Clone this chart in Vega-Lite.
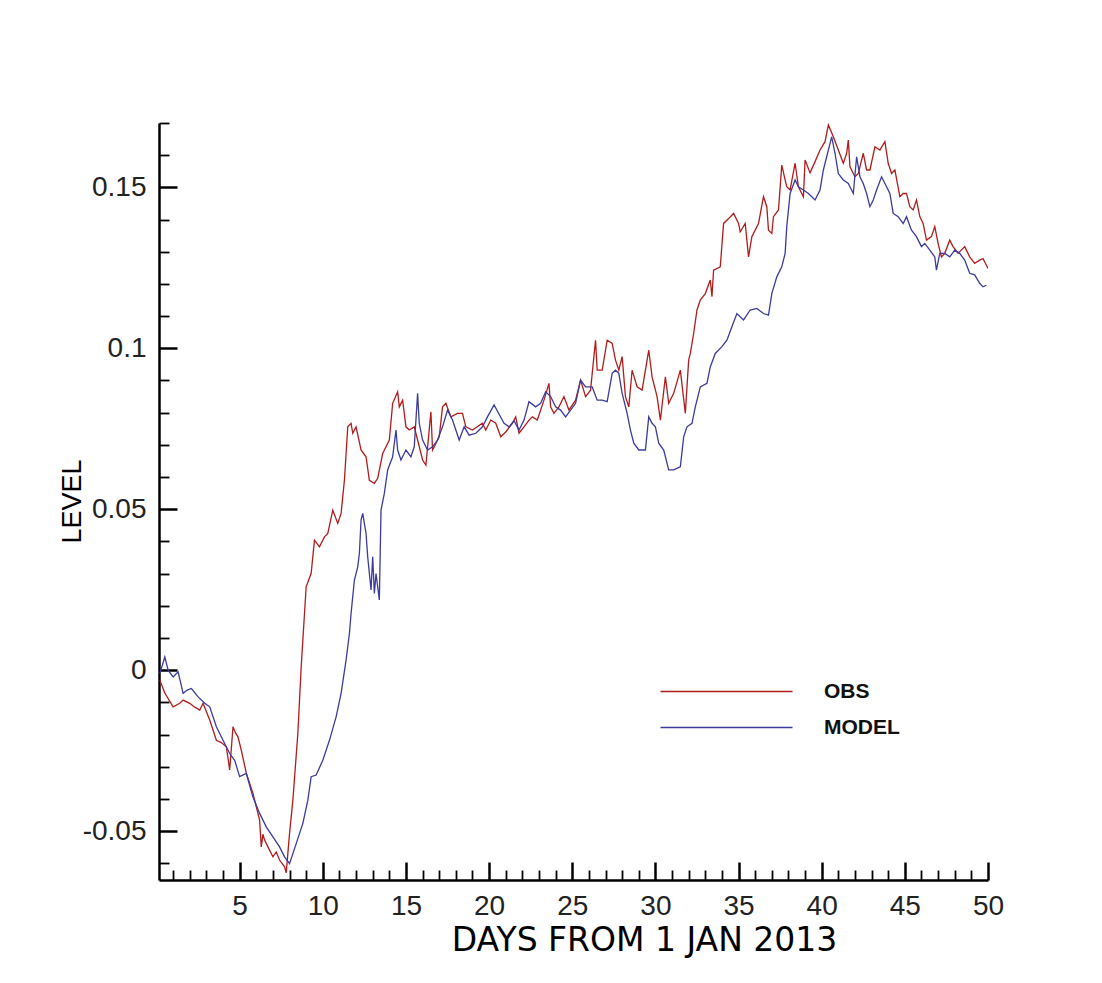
{
  "$schema": "https://vega.github.io/schema/vega-lite/v6.json",
  "autosize": {"type": "none"},
  "width": 829,
  "height": 757,
  "padding": {"left": 159, "top": 123, "right": 114, "bottom": 103},
  "background": "white",
  "config": {"view": {"stroke": null}},
  "data": {"values": [
{"day":0.2,"level":-0.0031,"series":"OBS"},{"day":0.5,"level":-0.0071,"series":"OBS"},{"day":1.0,"level":-0.0114,"series":"OBS"},{"day":1.4,"level":-0.0103,"series":"OBS"},{"day":1.6,"level":-0.0093,"series":"OBS"},{"day":2.0,"level":-0.0103,"series":"OBS"},{"day":2.3,"level":-0.0115,"series":"OBS"},{"day":2.6,"level":-0.0124,"series":"OBS"},{"day":2.8,"level":-0.0103,"series":"OBS"},{"day":3.2,"level":-0.0155,"series":"OBS"},{"day":3.6,"level":-0.0218,"series":"OBS"},{"day":3.9,"level":-0.0225,"series":"OBS"},{"day":4.2,"level":-0.0238,"series":"OBS"},{"day":4.4,"level":-0.031,"series":"OBS"},{"day":4.6,"level":-0.0176,"series":"OBS"},{"day":4.75,"level":-0.0195,"series":"OBS"},{"day":4.9,"level":-0.0207,"series":"OBS"},{"day":5.1,"level":-0.0249,"series":"OBS"},{"day":5.4,"level":-0.032,"series":"OBS"},{"day":5.8,"level":-0.0383,"series":"OBS"},{"day":6.2,"level":-0.0466,"series":"OBS"},{"day":6.3,"level":-0.0549,"series":"OBS"},{"day":6.4,"level":-0.051,"series":"OBS"},{"day":6.5,"level":-0.0528,"series":"OBS"},{"day":6.7,"level":-0.0549,"series":"OBS"},{"day":7.0,"level":-0.058,"series":"OBS"},{"day":7.2,"level":-0.0565,"series":"OBS"},{"day":7.4,"level":-0.059,"series":"OBS"},{"day":7.7,"level":-0.0611,"series":"OBS"},{"day":7.8,"level":-0.063,"series":"OBS"},{"day":8.0,"level":-0.0507,"series":"OBS"},{"day":8.2,"level":-0.0404,"series":"OBS"},{"day":8.5,"level":-0.0196,"series":"OBS"},{"day":8.7,"level":0.001,"series":"OBS"},{"day":8.9,"level":0.0177,"series":"OBS"},{"day":9.0,"level":0.0259,"series":"OBS"},{"day":9.3,"level":0.0301,"series":"OBS"},{"day":9.5,"level":0.0404,"series":"OBS"},{"day":9.8,"level":0.0383,"series":"OBS"},{"day":10.1,"level":0.0414,"series":"OBS"},{"day":10.3,"level":0.0425,"series":"OBS"},{"day":10.6,"level":0.0497,"series":"OBS"},{"day":10.9,"level":0.0456,"series":"OBS"},{"day":11.1,"level":0.0487,"series":"OBS"},{"day":11.3,"level":0.059,"series":"OBS"},{"day":11.5,"level":0.0756,"series":"OBS"},{"day":11.7,"level":0.0767,"series":"OBS"},{"day":11.8,"level":0.0736,"series":"OBS"},{"day":12.0,"level":0.0756,"series":"OBS"},{"day":12.3,"level":0.0684,"series":"OBS"},{"day":12.6,"level":0.0663,"series":"OBS"},{"day":12.8,"level":0.059,"series":"OBS"},{"day":13.1,"level":0.058,"series":"OBS"},{"day":13.3,"level":0.0596,"series":"OBS"},{"day":13.6,"level":0.0673,"series":"OBS"},{"day":14.0,"level":0.0715,"series":"OBS"},{"day":14.2,"level":0.0829,"series":"OBS"},{"day":14.5,"level":0.0865,"series":"OBS"},{"day":14.6,"level":0.0818,"series":"OBS"},{"day":14.8,"level":0.0839,"series":"OBS"},{"day":15.0,"level":0.0756,"series":"OBS"},{"day":15.2,"level":0.0746,"series":"OBS"},{"day":15.5,"level":0.0756,"series":"OBS"},{"day":15.7,"level":0.0715,"series":"OBS"},{"day":16.0,"level":0.0653,"series":"OBS"},{"day":16.2,"level":0.0637,"series":"OBS"},{"day":16.5,"level":0.0803,"series":"OBS"},{"day":16.6,"level":0.0684,"series":"OBS"},{"day":17.0,"level":0.0725,"series":"OBS"},{"day":17.2,"level":0.0818,"series":"OBS"},{"day":17.4,"level":0.0829,"series":"OBS"},{"day":17.7,"level":0.0787,"series":"OBS"},{"day":18.1,"level":0.0798,"series":"OBS"},{"day":18.4,"level":0.0798,"series":"OBS"},{"day":18.6,"level":0.0756,"series":"OBS"},{"day":19.0,"level":0.0746,"series":"OBS"},{"day":19.6,"level":0.0767,"series":"OBS"},{"day":19.8,"level":0.0746,"series":"OBS"},{"day":20.1,"level":0.0777,"series":"OBS"},{"day":20.4,"level":0.0767,"series":"OBS"},{"day":20.7,"level":0.0725,"series":"OBS"},{"day":21.0,"level":0.074,"series":"OBS"},{"day":21.4,"level":0.0767,"series":"OBS"},{"day":21.6,"level":0.0787,"series":"OBS"},{"day":21.8,"level":0.0736,"series":"OBS"},{"day":22.1,"level":0.0756,"series":"OBS"},{"day":22.4,"level":0.0777,"series":"OBS"},{"day":22.6,"level":0.0787,"series":"OBS"},{"day":22.9,"level":0.0777,"series":"OBS"},{"day":23.3,"level":0.0839,"series":"OBS"},{"day":23.6,"level":0.0891,"series":"OBS"},{"day":23.7,"level":0.0818,"series":"OBS"},{"day":23.9,"level":0.0798,"series":"OBS"},{"day":24.2,"level":0.0818,"series":"OBS"},{"day":24.5,"level":0.085,"series":"OBS"},{"day":24.8,"level":0.0808,"series":"OBS"},{"day":25.2,"level":0.0839,"series":"OBS"},{"day":25.5,"level":0.0901,"series":"OBS"},{"day":25.8,"level":0.085,"series":"OBS"},{"day":26.1,"level":0.087,"series":"OBS"},{"day":26.4,"level":0.1025,"series":"OBS"},{"day":26.5,"level":0.0932,"series":"OBS"},{"day":26.8,"level":0.0932,"series":"OBS"},{"day":27.1,"level":0.1025,"series":"OBS"},{"day":27.4,"level":0.1015,"series":"OBS"},{"day":27.6,"level":0.0963,"series":"OBS"},{"day":27.8,"level":0.0932,"series":"OBS"},{"day":28.0,"level":0.0974,"series":"OBS"},{"day":28.2,"level":0.085,"series":"OBS"},{"day":28.4,"level":0.0818,"series":"OBS"},{"day":28.6,"level":0.0932,"series":"OBS"},{"day":28.9,"level":0.088,"series":"OBS"},{"day":29.2,"level":0.087,"series":"OBS"},{"day":29.6,"level":0.0994,"series":"OBS"},{"day":29.8,"level":0.0911,"series":"OBS"},{"day":30.1,"level":0.085,"series":"OBS"},{"day":30.3,"level":0.0777,"series":"OBS"},{"day":30.6,"level":0.0911,"series":"OBS"},{"day":30.8,"level":0.0829,"series":"OBS"},{"day":31.1,"level":0.086,"series":"OBS"},{"day":31.5,"level":0.0932,"series":"OBS"},{"day":31.8,"level":0.0798,"series":"OBS"},{"day":32.0,"level":0.0963,"series":"OBS"},{"day":32.1,"level":0.0984,"series":"OBS"},{"day":32.3,"level":0.1046,"series":"OBS"},{"day":32.5,"level":0.1119,"series":"OBS"},{"day":32.7,"level":0.115,"series":"OBS"},{"day":33.0,"level":0.117,"series":"OBS"},{"day":33.3,"level":0.1212,"series":"OBS"},{"day":33.4,"level":0.116,"series":"OBS"},{"day":33.5,"level":0.1243,"series":"OBS"},{"day":33.9,"level":0.1253,"series":"OBS"},{"day":34.1,"level":0.1388,"series":"OBS"},{"day":34.4,"level":0.1403,"series":"OBS"},{"day":34.7,"level":0.1419,"series":"OBS"},{"day":35.0,"level":0.1388,"series":"OBS"},{"day":35.1,"level":0.1362,"series":"OBS"},{"day":35.4,"level":0.1388,"series":"OBS"},{"day":35.6,"level":0.1284,"series":"OBS"},{"day":35.8,"level":0.1347,"series":"OBS"},{"day":36.2,"level":0.1388,"series":"OBS"},{"day":36.5,"level":0.1471,"series":"OBS"},{"day":36.7,"level":0.144,"series":"OBS"},{"day":36.8,"level":0.1367,"series":"OBS"},{"day":37.0,"level":0.1357,"series":"OBS"},{"day":37.1,"level":0.1409,"series":"OBS"},{"day":37.4,"level":0.143,"series":"OBS"},{"day":37.6,"level":0.1569,"series":"OBS"},{"day":37.8,"level":0.1523,"series":"OBS"},{"day":37.9,"level":0.1502,"series":"OBS"},{"day":38.1,"level":0.1492,"series":"OBS"},{"day":38.4,"level":0.1575,"series":"OBS"},{"day":38.6,"level":0.1502,"series":"OBS"},{"day":38.9,"level":0.1471,"series":"OBS"},{"day":39.0,"level":0.1585,"series":"OBS"},{"day":39.3,"level":0.1545,"series":"OBS"},{"day":39.6,"level":0.158,"series":"OBS"},{"day":39.9,"level":0.1616,"series":"OBS"},{"day":40.2,"level":0.1642,"series":"OBS"},{"day":40.4,"level":0.1694,"series":"OBS"},{"day":40.7,"level":0.1657,"series":"OBS"},{"day":41.0,"level":0.1616,"series":"OBS"},{"day":41.3,"level":0.1575,"series":"OBS"},{"day":41.5,"level":0.1606,"series":"OBS"},{"day":41.6,"level":0.1647,"series":"OBS"},{"day":41.7,"level":0.1564,"series":"OBS"},{"day":42.0,"level":0.1533,"series":"OBS"},{"day":42.2,"level":0.1543,"series":"OBS"},{"day":42.5,"level":0.1606,"series":"OBS"},{"day":42.7,"level":0.1554,"series":"OBS"},{"day":42.9,"level":0.1554,"series":"OBS"},{"day":43.2,"level":0.1626,"series":"OBS"},{"day":43.5,"level":0.1616,"series":"OBS"},{"day":43.8,"level":0.1642,"series":"OBS"},{"day":44.0,"level":0.1575,"series":"OBS"},{"day":44.2,"level":0.1543,"series":"OBS"},{"day":44.4,"level":0.1554,"series":"OBS"},{"day":44.7,"level":0.1471,"series":"OBS"},{"day":44.9,"level":0.1481,"series":"OBS"},{"day":45.1,"level":0.1481,"series":"OBS"},{"day":45.3,"level":0.144,"series":"OBS"},{"day":45.5,"level":0.143,"series":"OBS"},{"day":45.7,"level":0.1461,"series":"OBS"},{"day":45.9,"level":0.1409,"series":"OBS"},{"day":46.1,"level":0.1388,"series":"OBS"},{"day":46.3,"level":0.1336,"series":"OBS"},{"day":46.6,"level":0.1347,"series":"OBS"},{"day":46.8,"level":0.1378,"series":"OBS"},{"day":47.0,"level":0.1326,"series":"OBS"},{"day":47.2,"level":0.1284,"series":"OBS"},{"day":47.4,"level":0.1295,"series":"OBS"},{"day":47.7,"level":0.1336,"series":"OBS"},{"day":47.9,"level":0.1316,"series":"OBS"},{"day":48.2,"level":0.1295,"series":"OBS"},{"day":48.6,"level":0.1316,"series":"OBS"},{"day":48.9,"level":0.1284,"series":"OBS"},{"day":49.2,"level":0.1264,"series":"OBS"},{"day":49.5,"level":0.1274,"series":"OBS"},{"day":49.7,"level":0.1279,"series":"OBS"},{"day":50.0,"level":0.1248,"series":"OBS"},
{"day":0.2,"level":-0.001,"series":"MODEL"},{"day":0.5,"level":0.0041,"series":"MODEL"},{"day":0.7,"level":0.0,"series":"MODEL"},{"day":1.0,"level":-0.0021,"series":"MODEL"},{"day":1.3,"level":-0.0005,"series":"MODEL"},{"day":1.6,"level":-0.0072,"series":"MODEL"},{"day":1.85,"level":-0.0062,"series":"MODEL"},{"day":2.1,"level":-0.0057,"series":"MODEL"},{"day":2.5,"level":-0.0083,"series":"MODEL"},{"day":2.9,"level":-0.0103,"series":"MODEL"},{"day":3.2,"level":-0.0114,"series":"MODEL"},{"day":3.6,"level":-0.0176,"series":"MODEL"},{"day":4.0,"level":-0.0218,"series":"MODEL"},{"day":4.4,"level":-0.0259,"series":"MODEL"},{"day":4.7,"level":-0.028,"series":"MODEL"},{"day":5.0,"level":-0.0331,"series":"MODEL"},{"day":5.4,"level":-0.0321,"series":"MODEL"},{"day":5.8,"level":-0.0394,"series":"MODEL"},{"day":6.2,"level":-0.0445,"series":"MODEL"},{"day":6.6,"level":-0.0487,"series":"MODEL"},{"day":7.0,"level":-0.0518,"series":"MODEL"},{"day":7.4,"level":-0.0549,"series":"MODEL"},{"day":7.7,"level":-0.058,"series":"MODEL"},{"day":8.0,"level":-0.0601,"series":"MODEL"},{"day":8.4,"level":-0.0539,"series":"MODEL"},{"day":8.8,"level":-0.0476,"series":"MODEL"},{"day":9.1,"level":-0.0404,"series":"MODEL"},{"day":9.3,"level":-0.0331,"series":"MODEL"},{"day":9.6,"level":-0.0326,"series":"MODEL"},{"day":10.0,"level":-0.028,"series":"MODEL"},{"day":10.4,"level":-0.0218,"series":"MODEL"},{"day":10.8,"level":-0.0145,"series":"MODEL"},{"day":11.1,"level":-0.0072,"series":"MODEL"},{"day":11.4,"level":0.0031,"series":"MODEL"},{"day":11.6,"level":0.0114,"series":"MODEL"},{"day":11.7,"level":0.0176,"series":"MODEL"},{"day":11.9,"level":0.028,"series":"MODEL"},{"day":12.1,"level":0.0321,"series":"MODEL"},{"day":12.2,"level":0.0363,"series":"MODEL"},{"day":12.3,"level":0.0466,"series":"MODEL"},{"day":12.4,"level":0.0487,"series":"MODEL"},{"day":12.6,"level":0.0425,"series":"MODEL"},{"day":12.7,"level":0.0352,"series":"MODEL"},{"day":12.9,"level":0.0249,"series":"MODEL"},{"day":13.0,"level":0.0352,"series":"MODEL"},{"day":13.1,"level":0.0238,"series":"MODEL"},{"day":13.2,"level":0.03,"series":"MODEL"},{"day":13.4,"level":0.0218,"series":"MODEL"},{"day":13.5,"level":0.0497,"series":"MODEL"},{"day":13.7,"level":0.0549,"series":"MODEL"},{"day":13.9,"level":0.0622,"series":"MODEL"},{"day":14.2,"level":0.0663,"series":"MODEL"},{"day":14.4,"level":0.0746,"series":"MODEL"},{"day":14.5,"level":0.0684,"series":"MODEL"},{"day":14.7,"level":0.0653,"series":"MODEL"},{"day":15.0,"level":0.0684,"series":"MODEL"},{"day":15.3,"level":0.0663,"series":"MODEL"},{"day":15.5,"level":0.0694,"series":"MODEL"},{"day":15.7,"level":0.086,"series":"MODEL"},{"day":15.8,"level":0.0767,"series":"MODEL"},{"day":16.0,"level":0.0715,"series":"MODEL"},{"day":16.3,"level":0.0684,"series":"MODEL"},{"day":16.6,"level":0.0694,"series":"MODEL"},{"day":16.9,"level":0.0715,"series":"MODEL"},{"day":17.2,"level":0.0756,"series":"MODEL"},{"day":17.5,"level":0.0808,"series":"MODEL"},{"day":17.8,"level":0.0777,"series":"MODEL"},{"day":18.0,"level":0.0746,"series":"MODEL"},{"day":18.2,"level":0.0715,"series":"MODEL"},{"day":18.5,"level":0.0756,"series":"MODEL"},{"day":18.8,"level":0.073,"series":"MODEL"},{"day":19.2,"level":0.0736,"series":"MODEL"},{"day":19.6,"level":0.0756,"series":"MODEL"},{"day":19.9,"level":0.0787,"series":"MODEL"},{"day":20.3,"level":0.0824,"series":"MODEL"},{"day":20.6,"level":0.0795,"series":"MODEL"},{"day":20.9,"level":0.0767,"series":"MODEL"},{"day":21.2,"level":0.0756,"series":"MODEL"},{"day":21.5,"level":0.0775,"series":"MODEL"},{"day":21.8,"level":0.0746,"series":"MODEL"},{"day":22.1,"level":0.0777,"series":"MODEL"},{"day":22.4,"level":0.0834,"series":"MODEL"},{"day":22.8,"level":0.0818,"series":"MODEL"},{"day":23.1,"level":0.0829,"series":"MODEL"},{"day":23.4,"level":0.0865,"series":"MODEL"},{"day":23.7,"level":0.085,"series":"MODEL"},{"day":24.0,"level":0.0818,"series":"MODEL"},{"day":24.3,"level":0.0808,"series":"MODEL"},{"day":24.6,"level":0.0787,"series":"MODEL"},{"day":24.9,"level":0.0808,"series":"MODEL"},{"day":25.2,"level":0.0829,"series":"MODEL"},{"day":25.5,"level":0.0901,"series":"MODEL"},{"day":25.8,"level":0.088,"series":"MODEL"},{"day":26.2,"level":0.088,"series":"MODEL"},{"day":26.5,"level":0.0839,"series":"MODEL"},{"day":26.8,"level":0.0839,"series":"MODEL"},{"day":27.1,"level":0.0834,"series":"MODEL"},{"day":27.4,"level":0.0922,"series":"MODEL"},{"day":27.6,"level":0.0932,"series":"MODEL"},{"day":27.8,"level":0.0922,"series":"MODEL"},{"day":28.0,"level":0.086,"series":"MODEL"},{"day":28.3,"level":0.0798,"series":"MODEL"},{"day":28.5,"level":0.0746,"series":"MODEL"},{"day":28.7,"level":0.0705,"series":"MODEL"},{"day":29.0,"level":0.0684,"series":"MODEL"},{"day":29.4,"level":0.0684,"series":"MODEL"},{"day":29.6,"level":0.0787,"series":"MODEL"},{"day":29.8,"level":0.0767,"series":"MODEL"},{"day":30.0,"level":0.0756,"series":"MODEL"},{"day":30.2,"level":0.0705,"series":"MODEL"},{"day":30.5,"level":0.0684,"series":"MODEL"},{"day":30.8,"level":0.0622,"series":"MODEL"},{"day":31.1,"level":0.0622,"series":"MODEL"},{"day":31.5,"level":0.0632,"series":"MODEL"},{"day":31.7,"level":0.0725,"series":"MODEL"},{"day":31.9,"level":0.0756,"series":"MODEL"},{"day":32.2,"level":0.0767,"series":"MODEL"},{"day":32.4,"level":0.0818,"series":"MODEL"},{"day":32.7,"level":0.088,"series":"MODEL"},{"day":33.1,"level":0.0891,"series":"MODEL"},{"day":33.3,"level":0.0942,"series":"MODEL"},{"day":33.6,"level":0.0984,"series":"MODEL"},{"day":34.0,"level":0.1005,"series":"MODEL"},{"day":34.3,"level":0.1025,"series":"MODEL"},{"day":34.6,"level":0.1067,"series":"MODEL"},{"day":34.9,"level":0.1108,"series":"MODEL"},{"day":35.3,"level":0.1088,"series":"MODEL"},{"day":35.7,"level":0.1119,"series":"MODEL"},{"day":36.1,"level":0.1124,"series":"MODEL"},{"day":36.5,"level":0.1108,"series":"MODEL"},{"day":36.8,"level":0.1103,"series":"MODEL"},{"day":37.0,"level":0.117,"series":"MODEL"},{"day":37.3,"level":0.1222,"series":"MODEL"},{"day":37.6,"level":0.1253,"series":"MODEL"},{"day":37.8,"level":0.1295,"series":"MODEL"},{"day":37.9,"level":0.1378,"series":"MODEL"},{"day":38.1,"level":0.1481,"series":"MODEL"},{"day":38.4,"level":0.1523,"series":"MODEL"},{"day":38.6,"level":0.1502,"series":"MODEL"},{"day":38.9,"level":0.1492,"series":"MODEL"},{"day":39.2,"level":0.1481,"series":"MODEL"},{"day":39.6,"level":0.1461,"series":"MODEL"},{"day":39.9,"level":0.1492,"series":"MODEL"},{"day":40.1,"level":0.1554,"series":"MODEL"},{"day":40.4,"level":0.1616,"series":"MODEL"},{"day":40.6,"level":0.1657,"series":"MODEL"},{"day":40.8,"level":0.1606,"series":"MODEL"},{"day":41.0,"level":0.1543,"series":"MODEL"},{"day":41.3,"level":0.1523,"series":"MODEL"},{"day":41.6,"level":0.1512,"series":"MODEL"},{"day":41.9,"level":0.1481,"series":"MODEL"},{"day":42.1,"level":0.1595,"series":"MODEL"},{"day":42.3,"level":0.1533,"series":"MODEL"},{"day":42.5,"level":0.1512,"series":"MODEL"},{"day":42.7,"level":0.1481,"series":"MODEL"},{"day":42.9,"level":0.144,"series":"MODEL"},{"day":43.1,"level":0.1461,"series":"MODEL"},{"day":43.3,"level":0.1492,"series":"MODEL"},{"day":43.6,"level":0.1533,"series":"MODEL"},{"day":43.9,"level":0.1502,"series":"MODEL"},{"day":44.1,"level":0.1481,"series":"MODEL"},{"day":44.3,"level":0.1419,"series":"MODEL"},{"day":44.6,"level":0.1409,"series":"MODEL"},{"day":44.9,"level":0.1388,"series":"MODEL"},{"day":45.1,"level":0.1409,"series":"MODEL"},{"day":45.4,"level":0.1367,"series":"MODEL"},{"day":45.7,"level":0.1347,"series":"MODEL"},{"day":46.0,"level":0.1316,"series":"MODEL"},{"day":46.2,"level":0.1326,"series":"MODEL"},{"day":46.5,"level":0.1305,"series":"MODEL"},{"day":46.8,"level":0.1284,"series":"MODEL"},{"day":46.9,"level":0.1243,"series":"MODEL"},{"day":47.1,"level":0.1295,"series":"MODEL"},{"day":47.4,"level":0.1295,"series":"MODEL"},{"day":47.7,"level":0.1284,"series":"MODEL"},{"day":48.0,"level":0.1305,"series":"MODEL"},{"day":48.3,"level":0.1295,"series":"MODEL"},{"day":48.6,"level":0.1274,"series":"MODEL"},{"day":48.9,"level":0.1233,"series":"MODEL"},{"day":49.2,"level":0.1228,"series":"MODEL"},{"day":49.5,"level":0.1202,"series":"MODEL"},{"day":49.7,"level":0.1191,"series":"MODEL"},{"day":49.9,"level":0.1196,"series":"MODEL"}
  ]},
  "layer": [
    {
      "mark": {"type": "line", "strokeWidth": 1.3, "clip": true},
      "encoding": {
        "x": {"field": "day", "type": "quantitative", "scale": {"domain": [0.15, 50], "nice": false, "zero": false},
          "axis": {"orient": "bottom", "values": [5,10,15,20,25,30,35,40,45,50], "tickSize": -18, "tickWidth": 2.5, "tickColor": "black", "domainColor": "black", "domainWidth": 2.5, "grid": false,
            "labelFont": "Liberation Sans", "labelFontSize": 28, "labelColor": "#222", "labelPadding": 30, "labelFlush": false, "labelBaseline": "top",
            "title": "DAYS FROM 1 JAN 2013", "titleFont": "DejaVu Sans", "titleFontSize": 33, "titleFontWeight": "normal", "titleColor": "black", "titleX": 485, "titleY": 60, "titleBaseline": "middle", "titleAlign": "center"}},
        "y": {"field": "level", "type": "quantitative", "scale": {"domain": [-0.0652, 0.17], "nice": false, "zero": false},
          "axis": {"orient": "left", "values": [-0.05, 0, 0.05, 0.1, 0.15], "labelExpr": "'' + datum.value", "tickSize": -18, "tickWidth": 2.5, "tickColor": "black", "domainColor": "black", "domainWidth": 2.5, "grid": false,
            "labelFont": "Liberation Sans", "labelFontSize": 28, "labelColor": "#222", "labelPadding": 31, "labelFlush": false,
            "title": "LEVEL", "titleFont": "Liberation Sans", "titleFontSize": 27, "titleFontWeight": "normal", "titleColor": "black", "titleX": -87, "titleY": 378, "titleBaseline": "middle", "titleAlign": "center", "titleAngle": -90}},
        "color": {"field": "series", "type": "nominal", "scale": {"domain": ["OBS", "MODEL"], "range": ["#b01c1c", "#3b3b9e"]},
          "legend": {"orient": "none", "legendX": 550, "legendY": 551, "title": null, "symbolType": "M-4,0H4", "symbolSize": 1089, "symbolStrokeWidth": 1.5, "symbolFillColor": "transparent", "labelOffset": 80, "labelFont": "Liberation Sans", "labelFontWeight": "bold", "labelFontSize": 21, "labelColor": "#111", "rowPadding": 8}}
      }
    },
    {
      "mark": {"type": "line", "strokeWidth": 1.3, "clip": true, "opacity": 0},
      "encoding": {
        "x": {"field": "day", "type": "quantitative",
          "axis": {"orient": "bottom", "values": [1,2,3,4,6,7,8,9,11,12,13,14,16,17,18,19,21,22,23,24,26,27,28,29,31,32,33,34,36,37,38,39,41,42,43,44,46,47,48,49], "tickSize": -10, "tickWidth": 1.8, "tickColor": "black", "domain": false, "labels": false, "grid": false, "title": null}},
        "y": {"field": "level", "type": "quantitative",
          "axis": {"orient": "left", "values": [-0.06,-0.04,-0.03,-0.02,-0.01,0.01,0.02,0.03,0.04,0.06,0.07,0.08,0.09,0.11,0.12,0.13,0.14,0.16,0.17], "tickSize": -10, "tickWidth": 1.8, "tickColor": "black", "domain": false, "labels": false, "grid": false, "title": null}},
        "detail": {"field": "series", "type": "nominal"}
      }
    }
  ],
  "resolve": {"axis": {"x": "independent", "y": "independent"}}
}
